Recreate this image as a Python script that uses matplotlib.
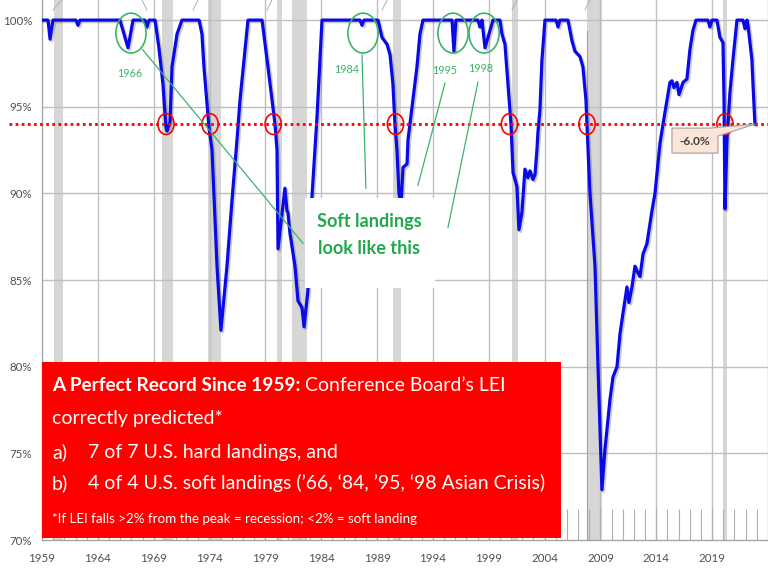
import matplotlib
matplotlib.use('Agg')
import matplotlib.pyplot as plt
from matplotlib.patches import Rectangle, Ellipse, Polygon
import matplotlib.patheffects as pe

plt.rcParams['font.family'] = ['Lato', 'DejaVu Sans']

# ---------------- data (LEI as % of prior peak) ----------------
years = [1959.00, 1959.54, 1959.72, 1959.98, 1962.04, 1962.22, 1962.40, 1965.98, 1966.70, 1967.15,
         1968.22, 1968.40, 1968.58, 1969.12, 1969.47, 1969.83, 1970.10, 1970.19, 1970.46, 1970.64,
         1971.09, 1971.53, 1973.06, 1973.32, 1973.50, 1973.95, 1974.22, 1974.67, 1975.02, 1975.56,
         1976.01, 1976.46, 1976.73, 1977.44, 1978.70, 1978.78, 1979.23, 1979.59, 1979.86, 1980.04,
         1980.13, 1980.75, 1980.93, 1981.02, 1981.20, 1981.65, 1981.92, 1982.28, 1982.46, 1982.81,
         1983.17, 1983.62, 1984.07, 1987.47, 1987.65, 1987.83, 1989.08, 1989.44, 1989.89, 1990.16,
         1990.42, 1990.60, 1990.78, 1990.96, 1991.14, 1991.32, 1991.68, 1991.77, 1992.21, 1992.57,
         1992.84, 1993.11, 1995.71, 1995.88, 1996.06, 1998.03, 1998.21, 1998.39, 1998.66, 1999.38,
         2000.00, 2000.18, 2000.45, 2000.72, 2000.99, 2001.17, 2001.52, 2001.70, 2001.97, 2002.24,
         2002.51, 2002.69, 2002.96, 2003.14, 2003.31, 2003.40, 2003.58, 2003.76, 2004.03, 2005.02,
         2005.20, 2005.37, 2006.09, 2006.45, 2006.72, 2007.16, 2007.43, 2007.70, 2007.79, 2008.06,
         2008.51, 2008.78, 2009.13, 2009.40, 2009.85, 2010.12, 2010.48, 2010.75, 2011.02, 2011.37,
         2011.55, 2011.82, 2012.09, 2012.36, 2012.54, 2012.81, 2013.16, 2013.61, 2013.88, 2014.33,
         2014.60, 2014.96, 2015.22, 2015.40, 2015.58, 2015.85, 2016.03, 2016.39, 2016.74, 2017.01,
         2017.28, 2017.55, 2018.62, 2018.80, 2018.98, 2019.43, 2019.70, 2019.97, 2020.06, 2020.15,
         2020.33, 2020.59, 2020.86, 2021.22, 2021.76, 2021.94, 2022.12, 2022.21, 2022.56, 2022.65,
         2022.83]
lei = [100.0, 100.0, 98.9, 100.0, 100.0, 99.7, 100.0, 100.0, 98.4, 100.0,
       100.0, 99.6, 100.0, 100.0, 98.4, 96.3, 93.8, 93.6, 94.1, 97.3,
       99.2, 100.0, 100.0, 99.2, 97.3, 93.8, 92.5, 85.8, 82.1, 85.8,
       89.6, 93.1, 95.4, 100.0, 100.0, 99.6, 97.3, 95.4, 94.0, 92.5,
       86.8, 90.3, 89.0, 88.9, 87.7, 85.8, 83.8, 83.4, 82.3, 84.4,
       89.8, 94.4, 100.0, 100.0, 99.7, 100.0, 100.0, 99.0, 98.6, 98.0,
       96.3, 94.0, 92.5, 90.0, 89.3, 91.5, 91.7, 93.1, 95.4, 97.3,
       99.2, 100.0, 100.0, 98.2, 100.0, 100.0, 99.6, 100.0, 98.4, 100.0,
       100.0, 99.2, 98.6, 96.3, 94.0, 91.2, 90.4, 87.9, 88.9, 91.4,
       90.9, 91.3, 90.8, 91.1, 92.5, 93.5, 94.8, 97.7, 100.0, 100.0,
       99.6, 100.0, 100.0, 98.8, 98.2, 97.9, 97.3, 95.4, 94.0, 90.0,
       85.8, 80.0, 72.9, 75.2, 78.1, 79.4, 80.0, 81.9, 83.1, 84.6,
       83.7, 84.6, 85.8, 85.4, 85.2, 86.5, 87.1, 89.0, 90.0, 92.9,
       94.0, 95.4, 96.4, 96.5, 96.1, 96.4, 95.7, 96.4, 96.6, 98.3,
       99.4, 100.0, 100.0, 99.6, 100.0, 100.0, 99.0, 98.7, 95.4, 89.1,
       93.1, 95.8, 97.7, 100.0, 100.0, 99.5, 100.0, 99.7, 97.7, 96.4,
       94.0]

recessions = [(1960.1, 1960.9), (1969.75, 1970.75), (1973.85, 1975.0), (1980.0, 1980.5),
              (1981.4, 1982.75), (1990.45, 1991.1), (2001.1, 2001.65), (2007.8, 2009.15),
              (2020.0, 2020.35)]
threshold = 94.0
threshold_label = '-6.0%'
crossings = [1970.1, 1974.05, 1979.7, 1990.65, 2000.85, 2007.8, 2020.15]

soft_labels = ['1966', '1984', '1995', '1998']
soft_circle_x = [1966.97, 1987.74, 1995.8, 1998.58]
soft_circle_y = 99.25
soft_label_x = [1966.83, 1986.31, 1995.08, 1998.3]
soft_label_y = [96.94, 97.17, 97.11, 97.23]
leader_start = [(1968.0, 98.3), (1987.65, 97.98), (1995.08, 96.36), (1998.03, 96.42)]
leader_end = [(1982.37, 87.12), (1988.0, 90.3), (1992.66, 90.47), (1995.35, 88.04)]

top_marks = [(1959.98, 1960.79), (1968.4, 1967.95), (1972.52, 1972.97), (1979.14, 1979.59),
             (1989.44, 1989.89), (2001.08, 2001.52), (2007.61, 2008.06)]

xtick_years = list(range(1959, 2020, 5))
ytick_vals = [70, 75, 80, 85, 90, 95, 100]

# ---------------- figure ----------------
W, H = 768, 576
fig = plt.figure(figsize=(W / 100, H / 100), dpi=100)
ax = fig.add_axes([42 / W, 36 / H, 726 / W, 540 / H])
ax.set_xlim(1959, 2024)
ax.set_ylim(70, 101.16)

GRID = '#bfbfbf'
for a, b in recessions:
    ax.axvspan(a, b, color='#d6d6d6', lw=0, zorder=0.4)

ax.set_yticks(ytick_vals)
ax.set_yticklabels([f'{v}%' for v in ytick_vals])
ax.set_xticks(xtick_years)
ax.set_xticklabels([str(y) for y in xtick_years])
ax.set_xticks(range(1959, 2024), minor=True)
for v in ytick_vals[1:]:
    ax.axhline(v, color=GRID, lw=1.0, zorder=0.6)
for y in xtick_years[1:] + [2024]:
    ax.axvline(y, color=GRID, lw=1.0, zorder=0.6)

ax.tick_params(axis='x', which='both', direction='in', length=22, color='#b0b0b0', width=0.8,
               labelsize=8.3, labelcolor='#505050', pad=9.5)
ax.tick_params(axis='y', which='both', length=0, labelsize=8.3, labelcolor='#505050', pad=7)
for s in ['top', 'right']:
    ax.spines[s].set_visible(False)
for s in ['left', 'bottom']:
    ax.spines[s].set_color('#a6a6a6')
    ax.spines[s].set_linewidth(1.0)

# thin red vertical line at 2008
ax.plot([2007.8, 2007.8], [70, 99.4], color='#f08080', lw=0.8, zorder=0.7)

# small grey strokes at top edge
for a, b in top_marks:
    ax.plot([a, b], [100.58, 101.16], color='#b0b0b0', lw=0.7, clip_on=False, zorder=1)

# LEI line
ax.plot(years, lei, color='#0a0ae6', lw=2.3, zorder=3, solid_joinstyle='round',
        path_effects=[pe.SimpleLineShadow(offset=(1.2, -1.2), shadow_color='#555555', alpha=0.3),
                      pe.Normal()])

# threshold dotted line
ax.plot([1956.05, 2024], [threshold, threshold], color='#ff0000', lw=2.0,
        linestyle=(0, (1, 1.2)), clip_on=False, zorder=4)
for cx in crossings:
    ax.add_patch(Ellipse((cx, threshold), 1.45, 1.2, fill=False, edgecolor='#ff0000', lw=1.2, zorder=4.5))

renderer = fig.canvas.get_renderer()

def fit(t, target_px):
    w = t.get_window_extent(renderer).width
    t.set_fontsize(t.get_fontsize() * target_px / w)
    return t.get_fontsize()

# soft landing circles / labels / leaders
GREEN = '#3cb36a'
for lab, cx, lx, ly, s, e in zip(soft_labels, soft_circle_x, soft_label_x, soft_label_y,
                                 leader_start, leader_end):
    ax.add_patch(Ellipse((cx, soft_circle_y), 2.7, 2.3, fill=False, edgecolor=GREEN, lw=1.2, zorder=4.5))
    tl = ax.text(lx, ly, lab, color=GREEN, fontsize=8.5, ha='center', va='center', zorder=6)
    fit(tl, 25)
    ax.plot([s[0], e[0]], [s[1], e[1]], color=GREEN, lw=0.9, zorder=4.6)

# "Soft landings look like this" box
ax.add_patch(Rectangle((1982.55, 84.52), 1994.18 - 1982.55, 89.72 - 84.52, facecolor='white',
                       edgecolor='none', zorder=5))
t1 = ax.text(1988.27, 88.04, 'Soft landings', color='#22a84a', fontweight='bold', fontsize=12,
             ha='center', va='baseline', zorder=6)
fs = fit(t1, 104)
ax.text(1988.27, 86.48, 'look like this', color='#22a84a', fontweight='bold', fontsize=fs,
        ha='center', va='baseline', zorder=6)

# -6.0% callout
px = lambda x: 1959 + (x - 42) / 11.17
py = lambda y: 100 - (y - 20) / 17.33
callout = [(px(672), py(128)), (px(710), py(128)), (px(755), py(124)), (px(718), py(136)),
           (px(718), py(153)), (px(672), py(153))]
ax.add_patch(Polygon(callout, closed=True, facecolor='#fbe5d6', edgecolor='#a0a0a0', lw=0.8, zorder=6))
tc = ax.text(px(695), py(141), threshold_label, color='#404040', fontweight='bold', fontsize=9,
             ha='center', va='center', zorder=7)
fit(tc, 31)

# red text box
ax.add_patch(Rectangle((1959.0, 70.13), 2005.46 - 1959.0, 80.30 - 70.13, facecolor='#ff0000',
                       edgecolor='none', zorder=5, clip_on=False))
xa, xb = px(52), px(88)
l4 = ax.text(xb, py(489), '4 of 4 U.S. soft landings (’66, ‘84, ’95, ‘98 Asian Crisis)',
             color='white', fontsize=14, va='baseline', zorder=6)
fsr = fit(l4, 458)
ax.text(xa, py(489), 'b)', color='white', fontsize=fsr, va='baseline', zorder=6)
b1 = ax.text(xa, py(391), 'A Perfect Record Since 1959:', color='white', fontweight='bold',
             fontsize=14, va='baseline', zorder=6)
fit(b1, 250)
ax.text(px(305), py(391), 'Conference Board’s LEI', color='white', fontsize=fsr, va='baseline', zorder=6)
ax.text(xa, py(424), 'correctly predicted*', color='white', fontsize=fsr, va='baseline', zorder=6)
ax.text(xa, py(458), 'a)', color='white', fontsize=fsr, va='baseline', zorder=6)
ax.text(xb, py(458), '7 of 7 U.S. hard landings, and', color='white', fontsize=fsr, va='baseline', zorder=6)
l5 = ax.text(xa, py(523), '*If LEI falls >2% from the peak = recession; <2% = soft landing',
             color='white', fontsize=9, va='baseline', zorder=6)
fit(l5, 366)

fig.savefig('out.png', dpi=100)
